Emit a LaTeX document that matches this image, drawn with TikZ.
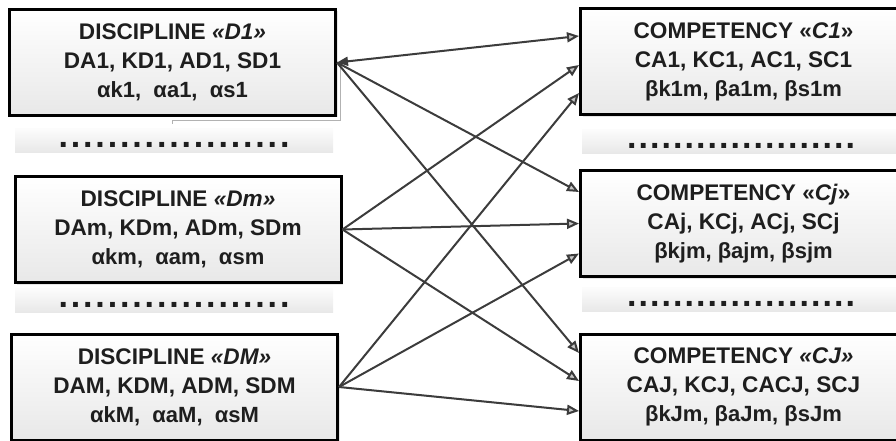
\documentclass[tikz,border=0pt]{standalone}
\usepackage{fontspec}
\setmainfont{Liberation Sans}
\usetikzlibrary{arrows.meta,shadows}
\definecolor{txt}{HTML}{1E1E1E}
\definecolor{linkgray}{HTML}{3C3C3C}
\newcommand{\dotrow}[2]{\foreach \k in {1,...,#1}{\hbox to #2{\hss.\hss}}}
\newcommand{\coefsize}{\fontsize{22}{27}\selectfont}
\begin{document}
\begin{tikzpicture}[x=1pt, y=-1pt,
    box/.style={draw=black, line width=3pt, minimum width=326pt, minimum height=106pt,
      top color=white, bottom color=black!9, align=center, text=txt,
      font=\bfseries\fontsize{22.6}{29}\selectfont,
      drop shadow={shadow xshift=2pt, shadow yshift=-2pt, opacity=0.2}},
    dotsbox/.style={minimum width=318pt, minimum height=24pt, inner sep=0pt,
      top color=black!1, bottom color=black!9, text=txt, text height=15pt, text depth=0pt,
      font=\bfseries\fontsize{34}{34}\selectfont},
    link/.style={draw=linkgray, line width=2pt, -{Triangle[fill=gray!45, length=12pt, width=10pt]}}]
  \clip (0,0) rectangle (896,441);
  % disciplines
  \node[box] (d1) at (172.5,62.5) {DISCIPLINE \textit{«D1»}\\ DA1, KD1, AD1, SD1\\ {\coefsize αk1,~ αa1,~ αs1}};
  \node[dotsbox] (dotsl1) at (174,140) {\dotrow{19}{12.3pt}};
  \node[box] (dm) at (178,229.5) {DISCIPLINE \textit{«Dm»}\\ DAm, KDm, ADm, SDm\\ {\coefsize αkm,~ αam,~ αsm}};
  \node[dotsbox] (dotsl2) at (174,300) {\dotrow{19}{12.3pt}};
  \node[box] (dlast) at (174.5,387) {DISCIPLINE \textit{«DM»}\\ DAM, KDM, ADM, SDM\\ {\coefsize αkM,~ αaM,~ αsM}};
  % competencies
  \node[box] (c1) at (743.5,62) {COMPETENCY «\textit{C1}»\\ CA1, KC1, AC1, SC1\\ {\coefsize βk1m, βa1m, βs1m}};
  \node[dotsbox] (dotsr1) at (741,141) {\dotrow{20}{11.5pt}};
  \node[box] (cj) at (743.5,223.5) {COMPETENCY «\textit{Cj}»\\ CAj, KCj, ACj, SCj\\ {\coefsize βkjm, βajm, βsjm}};
  \node[dotsbox] (dotsr2) at (741,299) {\dotrow{20}{11.5pt}};
  \node[box] (clast) at (743.5,387) {COMPETENCY \textit{«CJ»}\\ CAJ, KCJ, CACJ, SCJ\\ {\coefsize βkJm, βaJm, βsJm}};
  % links
  \draw[gray!60, line width=0.7pt] ([xshift=3pt]d1.east) |- ([yshift=-3pt]d1.south) -- ++(0,4);
  \draw[link, {Triangle[fill=linkgray, length=11pt, width=9pt]}-{Triangle[fill=gray!45, length=12pt, width=10pt]}]
    (d1.east) -- ([yshift=26pt]c1.west);
  \foreach \src/\dst/\dy in {d1/cj/31.5, d1/clast/34, dm/c1/-3, dm/cj/0, dm/clast/6,
      dlast/c1/-31, dlast/cj/-30, dlast/clast/-24}
    \draw[link] (\src.east) -- ([yshift=\dy pt]\dst.west);
\end{tikzpicture}
\end{document}
